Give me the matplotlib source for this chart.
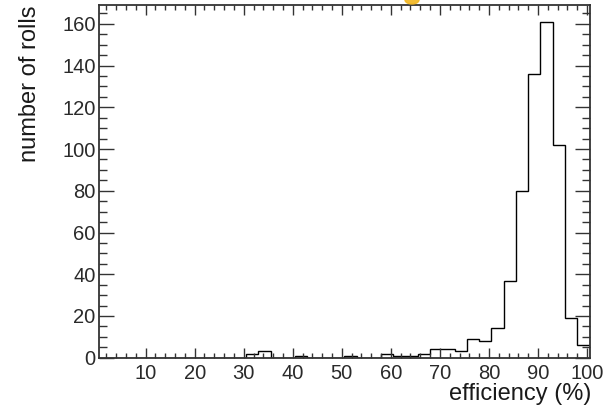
import numpy as np
import matplotlib
matplotlib.use("Agg")
import matplotlib.pyplot as plt
from matplotlib.ticker import MultipleLocator
from matplotlib.patches import Ellipse

# ---- data ----
bin_low = 0.5
bin_high = 100.5
n_bins = 40
counts = [0, 0, 0, 0, 0, 0, 0, 0, 0, 0,
          0, 0, 2, 3, 0, 0, 1, 0, 0, 0,
          1, 0, 0, 2, 1, 1, 2, 4, 4, 3,
          9, 8, 14, 37, 80, 136, 161, 102, 19, 6]
x_label = "efficiency (%)"
y_label = "number of rolls"
x_ticks = [10, 20, 30, 40, 50, 60, 70, 80, 90, 100]
y_ticks = [0, 20, 40, 60, 80, 100, 120, 140, 160]

edges = np.linspace(bin_low, bin_high, n_bins + 1)

plt.rcParams['font.family'] = ['Liberation Sans', 'DejaVu Sans']
frame_col = '#333333'

fig = plt.figure(figsize=(6.06, 4.07), dpi=100)
ax = fig.add_axes([99 / 606, 1 - 357.7 / 407, 490.5 / 606, 352.7 / 407])

ax.stairs(counts, edges, color='black', linewidth=1.0, baseline=0)

ax.set_xlim(bin_low, bin_high)
ax.set_ylim(0, max(counts) * 1.05)

ax.set_xticks(x_ticks)
ax.set_yticks(y_ticks)
ax.xaxis.set_minor_locator(MultipleLocator(2))
ax.yaxis.set_minor_locator(MultipleLocator(5))

ax.tick_params(axis='both', which='both', direction='in', top=True, right=True,
               colors=frame_col, labelcolor='#2a2a2a', labelsize=14.5)
ax.tick_params(axis='x', which='major', length=7.2, width=1.0, pad=4.5)
ax.tick_params(axis='x', which='minor', length=3.6, width=1.0)
ax.tick_params(axis='y', which='major', length=11, width=1.0, pad=2.5)
ax.tick_params(axis='y', which='minor', length=5.8, width=1.0)

for s in ax.spines.values():
    s.set_color(frame_col)
    s.set_linewidth(1.3)

ax.set_xlabel(x_label, loc='right', fontsize=17, color='#1a1a1a')
ax.xaxis.set_label_coords(1.004, -0.072)
ax.set_ylabel(y_label, loc='top', fontsize=17, color='#1a1a1a')
ax.yaxis.set_label_coords(-0.118, 1.0)

# small orange artifact at the top edge
fig.patches.append(Ellipse((412 / 606, 1 - 0 / 407), 14 / 606, 8 / 407,
                           transform=fig.transFigure, color='#f2b620',
                           alpha=0.9, zorder=10))

fig.savefig("out.png", dpi=100)
